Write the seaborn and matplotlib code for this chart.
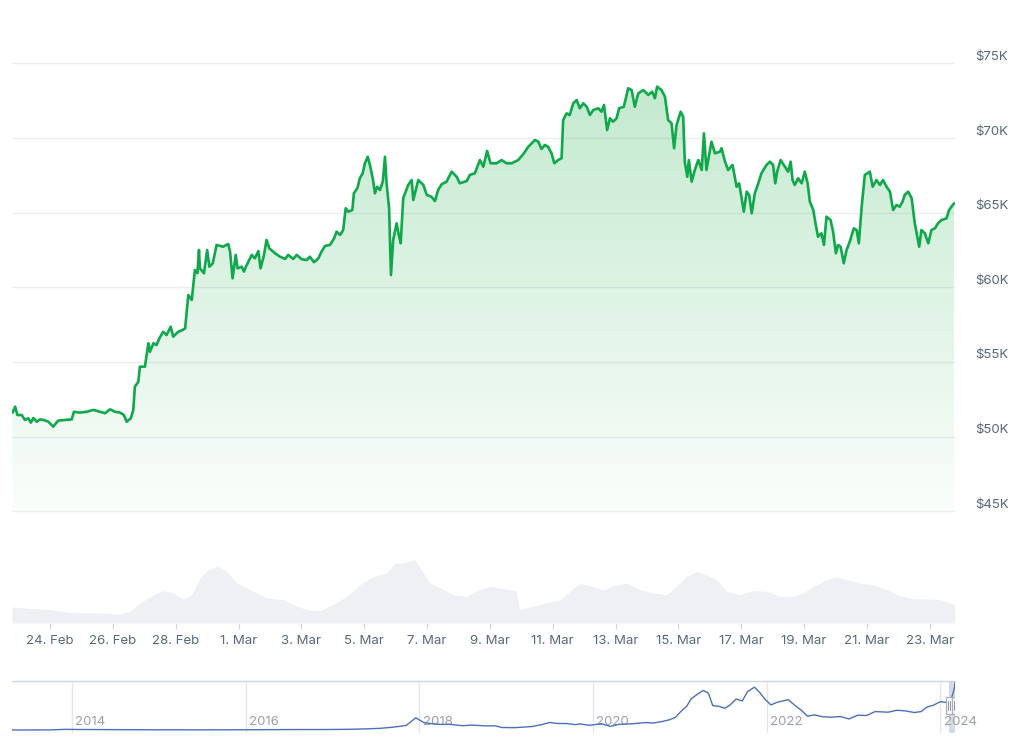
import matplotlib
matplotlib.use('Agg')
import matplotlib.pyplot as plt
import matplotlib.dates as mdates
import matplotlib.transforms as mtransforms
from matplotlib.colors import LinearSegmentedColormap
from matplotlib.patches import PathPatch, Rectangle
import numpy as np
import pandas as pd
import seaborn as sns

sns.set_theme(style='white')
plt.rcParams['font.family'] = ['Inter', 'DejaVu Sans']

# price: days after 24 Feb 2024, USD thousands
start = pd.Timestamp('2024-02-24')
price_day = [
    -1.19, -1.11, -1.04, -0.90, -0.80, -0.69, -0.61, -0.53, -0.42, -0.32,
    -0.21, -0.05, 0.10, 0.26, 0.48, 0.69, 0.76, 0.95, 1.17, 1.38,
    1.59, 1.75, 1.91, 2.07, 2.23, 2.35, 2.44, 2.57, 2.65, 2.70,
    2.81, 2.86, 3.02, 3.13, 3.18, 3.29, 3.39, 3.48, 3.60, 3.71,
    3.84, 3.92, 4.08, 4.22, 4.30, 4.40, 4.51, 4.61, 4.69, 4.74,
    4.77, 4.90, 5.00, 5.07, 5.18, 5.30, 5.51, 5.67, 5.73, 5.81,
    5.91, 5.97, 6.10, 6.17, 6.26, 6.42, 6.52, 6.63, 6.70, 6.81,
    6.89, 6.98, 7.16, 7.32, 7.48, 7.58, 7.74, 7.85, 8.01, 8.17,
    8.27, 8.40, 8.54, 8.64, 8.75, 8.91, 9.04, 9.12, 9.23, 9.33,
    9.41, 9.49, 9.62, 9.67, 9.78, 9.86, 9.95, 10.02, 10.11, 10.18,
    10.27, 10.34, 10.41, 10.50, 10.59, 10.66, 10.71, 10.79, 10.85, 10.92,
    11.03, 11.11, 11.16, 11.24, 11.40, 11.51, 11.56, 11.72, 11.88, 11.99,
    12.14, 12.25, 12.35, 12.46, 12.62, 12.78, 12.94, 13.04, 13.26, 13.36,
    13.52, 13.68, 13.79, 13.91, 14.02, 14.21, 14.37, 14.53, 14.69, 14.90,
    15.08, 15.22, 15.33, 15.43, 15.54, 15.64, 15.75, 15.85, 15.96, 16.05,
    16.17, 16.28, 16.33, 16.44, 16.54, 16.65, 16.76, 16.86, 16.97, 17.08,
    17.18, 17.29, 17.45, 17.55, 17.63, 17.73, 17.82, 17.92, 18.03, 18.11,
    18.26, 18.40, 18.51, 18.61, 18.72, 18.88, 19.04, 19.16, 19.25, 19.32,
    19.46, 19.57, 19.67, 19.78, 19.86, 19.94, 20.07, 20.15, 20.20, 20.28,
    20.33, 20.42, 20.52, 20.63, 20.74, 20.81, 20.89, 21.05, 21.16, 21.32,
    21.37, 21.48, 21.58, 21.72, 21.85, 21.93, 22.01, 22.08, 22.17, 22.25,
    22.33, 22.43, 22.54, 22.64, 22.80, 22.91, 23.01, 23.08, 23.14, 23.25,
    23.39, 23.49, 23.57, 23.63, 23.70, 23.81, 23.92, 24.02, 24.11, 24.18,
    24.29, 24.37, 24.44, 24.55, 24.63, 24.71, 24.84, 24.92, 25.01, 25.08,
    25.16, 25.26, 25.35, 25.45, 25.58, 25.67, 25.74, 25.83, 25.93, 26.09,
    26.18, 26.30, 26.41, 26.51, 26.62, 26.73, 26.83, 26.94, 27.04, 27.13,
    27.20, 27.31, 27.42, 27.52, 27.66, 27.73, 27.84, 27.95, 28.05, 28.16,
    28.26, 28.37, 28.53, 28.61, 28.69, 28.77,
]
price_k = [
    51.60, 52.00, 51.44, 51.44, 51.11, 51.22, 50.93, 51.24, 50.99, 51.15,
    51.11, 50.99, 50.66, 51.06, 51.11, 51.15, 51.66, 51.60, 51.66, 51.78,
    51.66, 51.56, 51.82, 51.66, 51.60, 51.44, 50.99, 51.22, 51.78, 53.34,
    53.67, 54.68, 54.68, 56.25, 55.68, 56.25, 56.13, 56.58, 57.02, 56.80,
    57.36, 56.69, 57.02, 57.14, 57.25, 59.48, 59.15, 61.16, 60.94, 62.50,
    61.27, 60.94, 62.50, 61.38, 61.61, 62.84, 62.72, 62.90, 62.39, 60.60,
    62.17, 61.27, 61.38, 61.05, 61.50, 62.17, 61.94, 62.43, 61.27, 62.17,
    63.17, 62.61, 62.28, 62.05, 61.90, 62.17, 61.90, 62.17, 61.88, 61.83,
    62.05, 61.68, 61.94, 62.39, 62.77, 62.84, 63.28, 63.73, 63.51, 63.84,
    65.30, 65.07, 65.18, 66.30, 66.64, 67.31, 67.64, 68.31, 68.75, 68.20,
    67.31, 66.30, 66.74, 66.52, 67.08, 68.75, 66.97, 65.30, 60.82, 63.17,
    64.29, 63.39, 62.95, 65.97, 66.86, 67.19, 65.85, 67.19, 66.86, 66.19,
    66.07, 65.78, 66.52, 66.90, 67.08, 67.75, 67.41, 66.97, 67.12, 67.53,
    67.64, 68.53, 68.08, 69.14, 68.31, 68.31, 68.53, 68.31, 68.31, 68.53,
    68.98, 69.42, 69.65, 69.87, 69.76, 69.27, 69.54, 69.42, 68.98, 68.31,
    68.53, 68.65, 71.21, 71.66, 71.55, 72.33, 72.55, 72.00, 72.33, 72.10,
    71.55, 71.88, 72.00, 71.77, 72.22, 70.54, 71.33, 71.10, 71.33, 72.00,
    72.10, 73.34, 73.22, 72.10, 73.00, 73.22, 72.89, 73.11, 72.67, 73.45,
    73.22, 72.77, 71.21, 70.99, 69.32, 70.88, 71.77, 71.43, 68.42, 67.41,
    68.53, 67.08, 67.86, 68.53, 67.86, 70.32, 67.86, 69.76, 68.98, 69.09,
    69.32, 68.42, 67.86, 68.20, 66.74, 66.97, 65.97, 65.07, 66.41, 66.19,
    64.96, 66.30, 66.97, 67.64, 68.20, 68.42, 68.20, 66.97, 67.75, 68.53,
    68.08, 67.75, 68.42, 67.19, 66.86, 67.31, 66.97, 67.75, 66.97, 65.74,
    65.18, 64.18, 63.39, 63.62, 62.84, 64.73, 64.51, 63.73, 62.28, 62.84,
    62.72, 61.61, 62.50, 63.06, 63.95, 63.84, 62.95, 65.40, 67.53, 67.75,
    66.74, 67.19, 66.86, 67.19, 66.74, 66.41, 65.18, 65.52, 65.40, 65.74,
    66.19, 66.41, 65.97, 64.29, 62.72, 63.84, 63.62, 62.95, 63.84, 63.95,
    64.29, 64.51, 64.62, 65.18, 65.40, 65.63,
]

# 24h volume, USD billions
vol_day = [
    -1.21, -0.53, 0.00, 0.53, 1.06, 1.59, 2.23, 2.55, 2.86, 3.29,
    3.60, 3.92, 4.24, 4.51, 4.77, 5.04, 5.30, 5.62, 5.94, 6.36,
    6.89, 7.42, 7.74, 8.17, 8.59, 9.01, 9.44, 9.86, 10.29, 10.71,
    10.98, 11.24, 11.61, 11.88, 12.09, 12.41, 12.83, 13.26, 13.68, 14.00,
    14.64, 14.83, 14.95, 15.27, 15.80, 16.23, 16.54, 16.86, 17.29, 17.60,
    17.92, 18.35, 18.77, 19.20, 19.62, 19.94, 20.26, 20.58, 20.89, 21.21,
    21.53, 21.95, 22.38, 22.80, 23.23, 23.65, 23.97, 24.29, 24.71, 25.03,
    25.35, 25.77, 26.19, 26.62, 27.04, 27.47, 27.89, 28.32, 28.64, 28.79,
]
vol_b = [
    24, 21.5, 20, 16.5, 15, 15, 13.5, 17.5, 30, 42.5,
    49, 45, 36, 42.5, 67.5, 80, 85, 77.5, 60, 50,
    37.5, 35, 27.5, 20, 18.5, 27.5, 40, 57.5, 70, 75,
    90, 90, 95, 75, 60, 52.5, 42.5, 40, 50, 55,
    50, 48, 20, 24, 30, 35, 47.5, 59, 55, 49,
    56, 60, 50, 45, 42.5, 55, 70, 77.5, 72.5, 65,
    47.5, 42.5, 49, 47.5, 40, 40, 45, 55, 65, 69,
    65, 60, 57.5, 50, 41, 36.5, 36, 35, 30, 27.5,
]

# navigator: full history, decimal years vs USD thousands
nav_year = [
    2013.31, 2013.5, 2013.75, 2013.92, 2014.1, 2014.5, 2015.0, 2015.5, 2016.0, 2016.5,
    2016.9, 2017.2, 2017.4, 2017.55, 2017.7, 2017.85, 2017.96, 2018.05, 2018.12, 2018.25,
    2018.35, 2018.5, 2018.6, 2018.75, 2018.88, 2018.95, 2019.1, 2019.3, 2019.42, 2019.5,
    2019.58, 2019.7, 2019.8, 2019.85, 2019.96, 2020.1, 2020.2, 2020.3, 2020.45, 2020.6,
    2020.7, 2020.8, 2020.88, 2020.95, 2021.02, 2021.08, 2021.13, 2021.2, 2021.27, 2021.33,
    2021.38, 2021.45, 2021.52, 2021.58, 2021.65, 2021.72, 2021.78, 2021.86, 2021.92, 2021.98,
    2022.05, 2022.12, 2022.25, 2022.32, 2022.4, 2022.47, 2022.55, 2022.65, 2022.75, 2022.85,
    2022.95, 2023.05, 2023.15, 2023.25, 2023.4, 2023.5, 2023.6, 2023.7, 2023.78, 2023.85,
    2023.92, 2024.0, 2024.06, 2024.11, 2024.13, 2024.15, 2024.165, 2024.17,
]
nav_k = [
    0.1, 0.1, 0.2, 1.0, 0.8, 0.6, 0.3, 0.25, 0.4, 0.7,
    0.75, 1.1, 1.8, 2.6, 4.3, 7.0, 18.5, 11.5, 10.0, 8.5,
    8.7, 6.5, 7.5, 6.4, 6.3, 3.8, 3.6, 5.3, 8.5, 11.5,
    10.0, 9.8, 8.2, 9.3, 7.2, 9.5, 5.5, 8.7, 9.4, 11.3,
    10.6, 13.0, 15.5, 19.2, 29.0, 36.0, 47.0, 54.0, 60.0, 56.0,
    37.0, 36.0, 33.0, 38.0, 47.0, 44.0, 58.0, 65.0, 57.0, 47.0,
    38.0, 42.0, 46.0, 38.0, 30.0, 21.0, 23.0, 20.0, 19.5, 20.5,
    16.8, 22.5, 22.0, 28.0, 27.0, 30.0, 29.0, 26.5, 28.0, 35.0,
    37.5, 43.0, 42.0, 43.0, 49.0, 57.0, 65.0, 72.0,
]

price_ticks = [45, 50, 55, 60, 65, 70, 75]
year_ticks = [2014, 2016, 2018, 2020, 2022, 2024]

GREEN = '#0fa84a'
TXT = '#58667e'
GRID = '#eceef3'

price = pd.DataFrame({'time': start + pd.to_timedelta(price_day, unit='D'),
                      'price': np.array(price_k) * 1000})
vol = pd.DataFrame({'time': start + pd.to_timedelta(vol_day, unit='D'),
                    'volume': vol_b})
nav = pd.DataFrame({'year': nav_year, 'price': nav_k})

W, H = 1024, 747
fig = plt.figure(figsize=(W / 100, H / 100), dpi=100)
fig.patch.set_facecolor('white')


def px_box(left, top, right, bottom):
    return [left / W, 1 - bottom / H, (right - left) / W, (bottom - top) / H]


ax = fig.add_axes(px_box(12, 30, 955, 513))
axv = fig.add_axes(px_box(12, 545, 955, 623), sharex=ax)
axn = fig.add_axes(px_box(12, 681, 955, 733))

x0 = start - pd.Timedelta(days=1.21)
x1 = start + pd.Timedelta(days=28.80)

# price line with a fading green area under it
sns.lineplot(data=price, x='time', y='price', ax=ax, color=GREEN, lw=1.9, zorder=3)
fill = ax.fill_between(price['time'], price['price'], 45000, facecolor='none', edgecolor='none')
clip = PathPatch(fill.get_paths()[0], transform=ax.transData, facecolor='none', edgecolor='none')
ax.add_patch(clip)
cmap = LinearSegmentedColormap.from_list(
    'fade', [(0.13, 0.69, 0.30, 0.02), (0.13, 0.69, 0.30, 0.27)])
ax.imshow(np.linspace(0, 1, 256).reshape(-1, 1), cmap=cmap, aspect='auto', origin='lower',
          extent=[mdates.date2num(x0), mdates.date2num(x1), 45000, price['price'].max()],
          zorder=1, clip_path=clip, interpolation='bilinear')
ax.set_xlim(x0, x1)
ax.set_ylim(44873, 77245)
ax.set_yticks([v * 1000 for v in price_ticks])
ax.yaxis.grid(True, color=GRID, lw=1)
ax.xaxis.grid(False)
ax.tick_params(left=False, right=False, bottom=False, labelleft=False, labelbottom=False)
ax.set(xlabel='', ylabel='')
for v in price_ticks:
    ax.annotate(f'${v}K', xy=(1, v * 1000), xycoords=('axes fraction', 'data'),
                xytext=(14.4, 4.7), textcoords='offset points',
                ha='left', va='center', fontsize=9.5, color=TXT)

# volume pane
axv.fill_between(vol['time'], vol['volume'], 0, color='#eef0f4', lw=0)
axv.set_ylim(0, 117)
axv.grid(False)
tick_dates = pd.date_range('2024-02-24', '2024-03-23', freq='2D')
axv.set_xticks(tick_dates)
axv.set_xticklabels([f'{d.day}. {d:%b}' for d in tick_dates])
axv.set_xlim(x0, x1)
axv.tick_params(axis='x', bottom=True, length=4.5, width=0.8, color='#ccd6eb',
                pad=4, labelsize=9.5, labelcolor=TXT)
axv.tick_params(axis='y', left=False, labelleft=False)

# navigator
sns.lineplot(data=nav, x='year', y='price', ax=axn, color='#4d6fbf', lw=1.0, zorder=3)
axn.set_xlim(2013.31, 2024.17)
axn.set_ylim(-4.5, 74.3)
axn.set_xticks([])
axn.set_yticks([])
axn.set(xlabel='', ylabel='')
blend = mtransforms.blended_transform_factory(axn.transData, axn.transAxes)
for yr in year_ticks:
    axn.axvline(yr, color='#e6e6e6', lw=1, zorder=0)
    axn.text(yr + 0.04, 0.22, str(yr), transform=blend, ha='left', va='center',
             fontsize=9.5, color='#9a9fa8', zorder=2)
mask_lo, mask_hi = 2024.105, 2024.17
axn.axvspan(mask_lo, mask_hi, color='#d5dbe4', lw=0, zorder=1)
hw = 0.04
for xc in (mask_lo, mask_hi):
    axn.add_patch(Rectangle((xc - hw, 0.36), 2 * hw, 0.33, transform=blend,
                            facecolor='#f5f6f8', edgecolor='#a8adb5', lw=0.8, zorder=4))
    for dx in (-0.013, 0.013):
        axn.plot([xc + dx, xc + dx], [0.44, 0.61], transform=blend, color='#8f959e',
                 lw=0.7, zorder=5)

for a in (ax, axv, axn):
    for s in a.spines.values():
        s.set_visible(False)
    a.set_facecolor('none')
axn.spines['top'].set_visible(True)
axn.spines['top'].set_color('#ccd6eb')
axn.spines['top'].set_linewidth(1)

fig.savefig('out.png', dpi=100)
